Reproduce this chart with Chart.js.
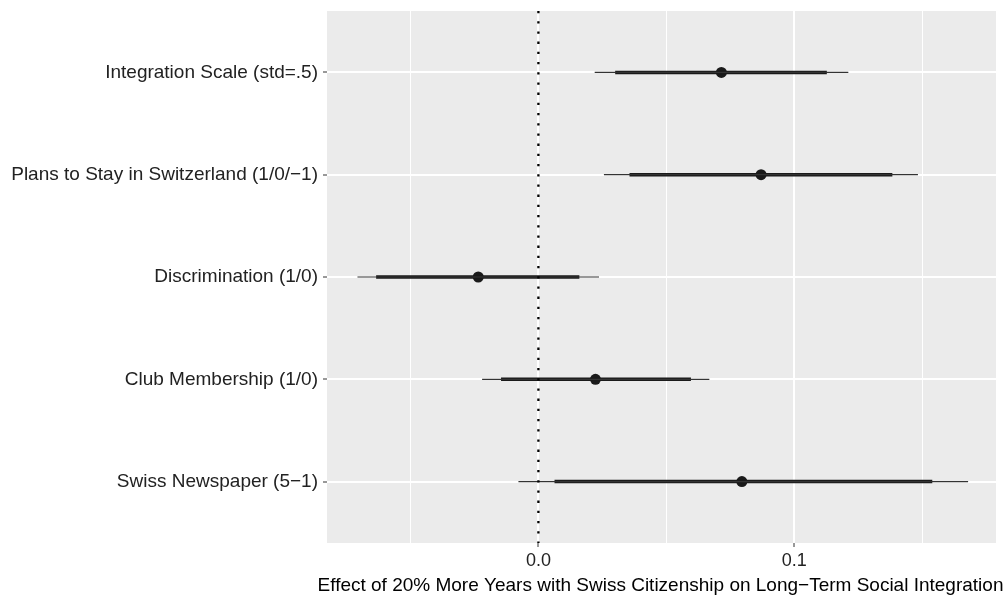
<!DOCTYPE html>
<html>
<head>
<meta charset="utf-8">
<script src="https://cdn.jsdelivr.net/npm/chart.js@4"></script>
<style>
    body { margin: 0; background: #fff; }
</style>
</head>
<body>
<canvas id="myChart" width="1007" height="597"></canvas>
<script>
// rows, top to bottom
const labels = ['Integration Scale (std=.5)', 'Plans to Stay in Switzerland (1/0/\u22121)', 'Discrimination (1/0)', 'Club Membership (1/0)', 'Swiss Newspaper (5\u22121)'];
const estimate = [0.0715, 0.0870, -0.0235, 0.0223, 0.0795];
const lo95 = [0.0220, 0.0256, -0.0707, -0.0220, -0.0078];
const hi95 = [0.1211, 0.1483, 0.0237, 0.0668, 0.1679];
const lo90 = [0.0300, 0.0356, -0.0634, -0.0146, 0.0063];
const hi90 = [0.1127, 0.1383, 0.0160, 0.0596, 0.1539];

const xTicks = [-0.05, 0, 0.05, 0.1, 0.15];
const xMajor = [0, 0.1];
const xTickLabels = ['0.0', '0.1'];
const xMin = -0.0826;
const xMax = 0.1788;
const xTitle = 'Effect of 20% More Years with Swiss Citizenship on Long\u2212Term Social Integration';

DrawGraph();

function isMajor (_v)
{
    return xMajor.some(m => Math.abs(m - _v) < 1e-9);
}

function DrawGraph ()
{
    var datasets = [];

    // dotted zero line
    datasets.push({
        data: [{ x: 0, y: -0.6 }, { x: 0, y: 4.6 }],
        showLine: true,
        borderColor: '#000000',
        borderWidth: 2.3,
        borderDash: [2.3, 7.9],
        pointRadius: 0
    });

    for (var i = 0; i < labels.length; i++)
    {
        datasets.push({
            data: [{ x: lo95[i], y: i }, { x: hi95[i], y: i }],
            showLine: true,
            borderColor: '#333333',
            borderWidth: 1.2,
            pointRadius: 0
        });
        datasets.push({
            data: [{ x: lo90[i], y: i }, { x: hi90[i], y: i }],
            showLine: true,
            borderColor: '#1a1a1a',
            borderWidth: 3.5,
            pointRadius: 0
        });
    }

    datasets.push({
        data: estimate.map((v, i) => ({ x: v, y: i })),
        showLine: false,
        pointRadius: 5.5,
        pointBackgroundColor: '#1a1a1a',
        pointBorderWidth: 0
    });

    const panelBg =
    {
        id: 'panelBg',
        beforeDraw (chart)
        {
            const a = chart.chartArea;
            const ctx = chart.ctx;
            ctx.save();
            ctx.fillStyle = '#EBEBEB';
            ctx.fillRect(a.left, a.top, a.right - a.left, a.bottom - a.top);
            ctx.restore();
        }
    };

    // axis title drawn by hand so it can run wider than the panel, like ggplot
    const xTitlePlugin =
    {
        id: 'xTitlePlugin',
        afterDraw (chart)
        {
            const a = chart.chartArea;
            const ctx = chart.ctx;
            ctx.save();
            ctx.font = '19px "Liberation Sans"';
            ctx.fillStyle = '#000000';
            ctx.textAlign = 'center';
            ctx.textBaseline = 'alphabetic';
            ctx.fillText(xTitle, (a.left + a.right) / 2 - 1, chart.height - 6);
            ctx.restore();
        }
    };

    const config =
    {
        type: 'scatter',
        data: { datasets: datasets },
        plugins: [panelBg, xTitlePlugin],
        options:
        {
            responsive: false,
            animation: false,
            layout: { padding: { top: 11, right: 11, left: 0, bottom: 0 } },
            plugins:
            {
                legend: { display: false },
                tooltip: { enabled: false }
            },
            scales:
            {
                x:
                {
                    type: 'linear',
                    min: xMin,
                    max: xMax,
                    afterBuildTicks: (scale) => { scale.ticks = xTicks.map(v => ({ value: v })); },
                    afterFit: (scale) => { scale.height = 54; scale.paddingLeft = 0; scale.paddingRight = 0; },
                    border: { display: false },
                    grid:
                    {
                        color: '#FFFFFF',
                        lineWidth: (c) => isMajor(c.tick.value) ? 2 : 1,
                        tickColor: (c) => isMajor(c.tick.value) ? '#333333' : 'rgba(0,0,0,0)',
                        tickLength: 4,
                        tickWidth: 1
                    },
                    ticks:
                    {
                        padding: 3,
                        color: '#222222',
                        font: { family: 'Liberation Sans', size: 18 },
                        maxRotation: 0,
                        autoSkip: false,
                        callback: (v) => {
                            const k = xMajor.findIndex(m => Math.abs(m - v) < 1e-9);
                            return k >= 0 ? xTickLabels[k] : '';
                        }
                    }
                },
                y:
                {
                    type: 'linear',
                    reverse: true,
                    min: -0.6,
                    max: 4.6,
                    afterBuildTicks: (scale) => { scale.ticks = labels.map((l, i) => ({ value: i })); },
                    afterFit: (scale) => { scale.width = 327; scale.paddingTop = 0; scale.paddingBottom = 0; },
                    border: { display: false },
                    grid:
                    {
                        color: '#FFFFFF',
                        lineWidth: 2,
                        tickColor: '#333333',
                        tickLength: 4,
                        tickWidth: 1
                    },
                    ticks:
                    {
                        padding: 5,
                        color: '#222222',
                        font: { family: 'Liberation Sans', size: 19 },
                        autoSkip: false,
                        callback: (v) => labels[v]
                    }
                }
            }
        }
    };

    const ctx = document.getElementById('myChart').getContext('2d');
    if (ctx) {
        const myChart = new Chart(ctx, config);
    } else {
        console.error('Element with ID "myChart" not found.');
    }
}
</script>
</body>
</html>
